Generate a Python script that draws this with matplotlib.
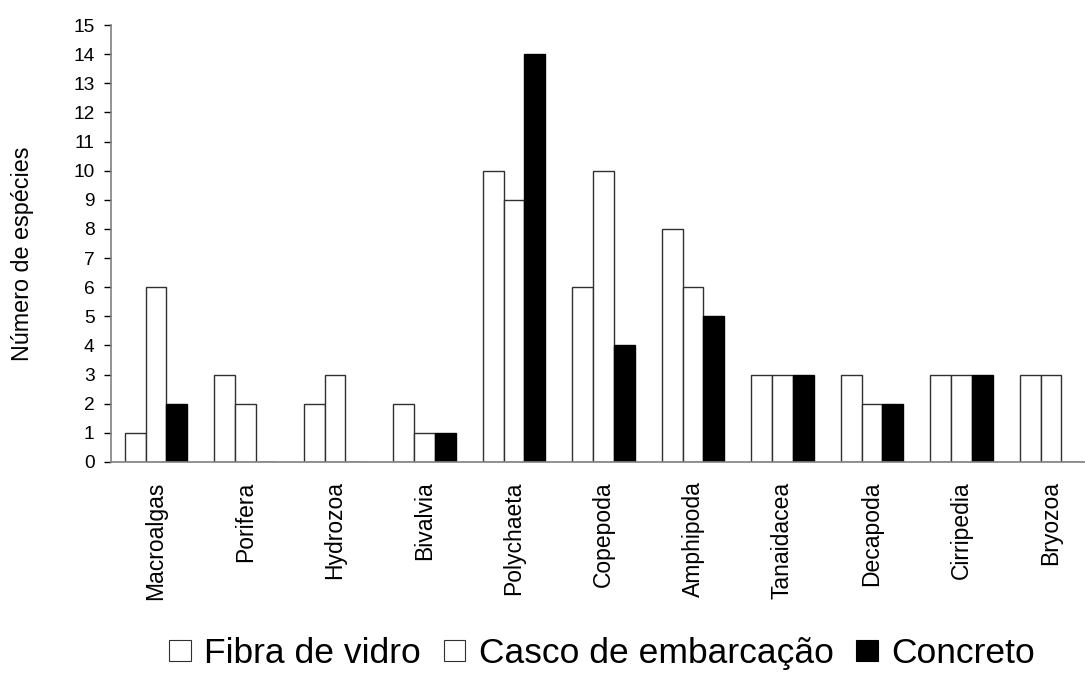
import numpy as np
import matplotlib
matplotlib.use("Agg")
import matplotlib.pyplot as plt
from matplotlib.patches import Patch

plt.rcParams['font.family'] = ['Liberation Sans', 'DejaVu Sans']

categorias = ['Macroalgas', 'Porifera', 'Hydrozoa', 'Bivalvia', 'Polychaeta',
              'Copepoda', 'Amphipoda', 'Tanaidacea', 'Decapoda', 'Cirripedia',
              'Bryozoa']
fibra = [1, 3, 2, 2, 10, 6, 8, 3, 3, 3, 3]
casco = [6, 2, 3, 1, 9, 10, 6, 3, 2, 3, 3]
concreto = [2, 0, 0, 1, 14, 4, 5, 3, 2, 3, 0]
series = ['Fibra de vidro', 'Casco de embarcação', 'Concreto']

fig = plt.figure(figsize=(10.85, 6.73), dpi=100)
ax = fig.add_axes([111.25 / 1085, 211 / 673, 1 - 111.25 / 1085, 437 / 673])

x = np.arange(len(categorias))
w = 0.231
edge = '#303030'
ax.bar(x - w, fibra, w, color='white', edgecolor=edge, linewidth=1.0)
ax.bar(x, casco, w, color='white', edgecolor=edge, linewidth=1.0)
ax.bar(x + w, concreto, w, color='black', edgecolor='black', linewidth=1.0)

ax.set_xlim(-0.5, 10.38)
ax.set_ylim(0, 15)
ax.set_yticks(range(16))
ax.set_xticks(x)
ax.set_xticklabels(categorias, rotation=90, va='top', ha='center', fontsize=16.5)
ax.tick_params(axis='x', length=0, pad=14)
ax.tick_params(axis='y', length=5, width=1, direction='out', pad=7,
               labelsize=13.8, color='black')

# only left and bottom axis lines
for s in ['top', 'right']:
    ax.spines[s].set_visible(False)
for s in ['left', 'bottom']:
    ax.spines[s].set_color('#808080')
    ax.spines[s].set_linewidth(1.2)

fig.text(23 / 1085, 1 - 254 / 673, 'Número de espécies', rotation=90,
         ha='center', va='center', fontsize=16.8)

handles = [Patch(facecolor='white', edgecolor=edge, linewidth=0.8),
           Patch(facecolor='white', edgecolor=edge, linewidth=0.8),
           Patch(facecolor='black', edgecolor='black', linewidth=0.8)]
fig.legend(handles, series, loc='center', bbox_to_anchor=(602 / 1085, 0.029),
           ncol=3, frameon=False, fontsize=25.5, handlelength=0.62,
           handleheight=0.55, handletextpad=0.37, columnspacing=0.65,
           borderpad=0, borderaxespad=0)

fig.savefig('out.png', dpi=100)
